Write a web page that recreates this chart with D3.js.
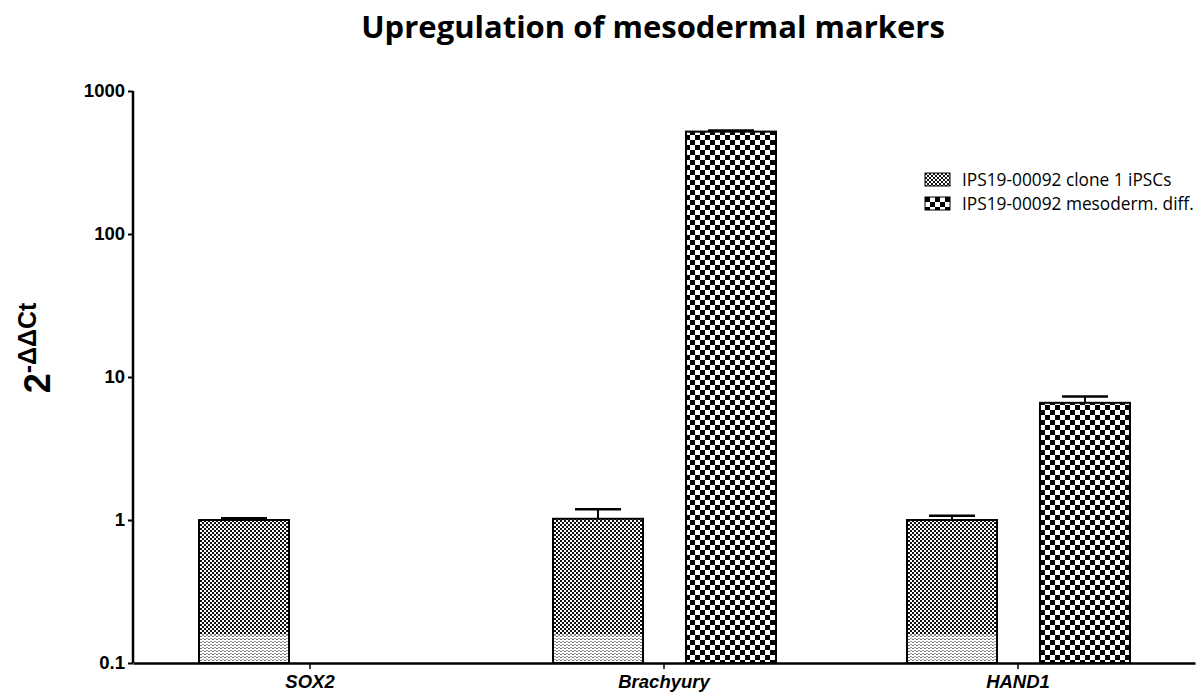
<!DOCTYPE html>
<html>
<head>
<meta charset="utf-8">
<script src="https://cdn.jsdelivr.net/npm/d3@7"></script>
<style>
  body { margin: 0; background: #fff; }
  svg { display: block; }
</style>
</head>
<body>
<script>
// data
var genes = ["SOX2", "Brachyury", "HAND1"];
var seriesNames = ["IPS19-00092 clone 1 iPSCs", "IPS19-00092 mesoderm. diff."];
var cloneValues = [1.0, 1.02, 1.0];
var cloneErrors = [1.03, 1.19, 1.07];
var mesoValues = [null, 520, 6.6];
var mesoErrors = [null, 530, 7.3];
var yTicks = [0.1, 1, 10, 100, 1000];

var width = 1200, height = 696;
var margin = {top: 91, right: 5, bottom: 33, left: 133};

var svg = d3.select("body").append("svg")
    .attr("width", width)
    .attr("height", height);

// patterns
var defs = svg.append("defs");

var pClone = defs.append("pattern")
    .attr("id", "pClone")
    .attr("patternUnits", "userSpaceOnUse")
    .attr("width", 4).attr("height", 4);
pClone.append("rect").attr("width", 4).attr("height", 4).attr("fill", "#fff");
pClone.append("rect").attr("width", 2).attr("height", 2).attr("fill", "#111");
pClone.append("rect").attr("x", 2).attr("y", 2).attr("width", 2).attr("height", 2).attr("fill", "#111");

var pMeso = defs.append("pattern")
    .attr("id", "pMeso")
    .attr("patternUnits", "userSpaceOnUse")
    .attr("width", 10).attr("height", 10);
pMeso.append("rect").attr("width", 10).attr("height", 10).attr("fill", "#fff");
pMeso.append("rect").attr("width", 5).attr("height", 5).attr("fill", "#000");
pMeso.append("rect").attr("x", 5).attr("y", 5).attr("width", 5).attr("height", 5).attr("fill", "#000");

var pLight = defs.append("pattern")
    .attr("id", "pLight")
    .attr("patternUnits", "userSpaceOnUse")
    .attr("width", 4).attr("height", 3);
pLight.append("rect").attr("width", 4).attr("height", 3).attr("fill", "#fff");
pLight.append("rect").attr("width", 2).attr("height", 1).attr("fill", "#777");
pLight.append("rect").attr("x", 2).attr("y", 2).attr("width", 2).attr("height", 1).attr("fill", "#999");

var patterns = ["url(#pClone)", "url(#pMeso)"];

// scales
var x0 = d3.scaleBand()
    .domain(genes)
    .range([margin.left, width - margin.right])
    .padding(0);

var x1 = d3.scaleBand()
    .domain(seriesNames)
    .range([66, 289])
    .paddingInner(0.323)
    .paddingOuter(0);

var y = d3.scaleLog()
    .domain([0.1, 1000])
    .range([height - margin.bottom, margin.top]);

// build rows
var rows = [];
genes.forEach(function(g, i) {
    rows.push({gene: g, series: seriesNames[0], value: cloneValues[i], err: cloneErrors[i], k: 0});
    if (mesoValues[i] != null) {
        rows.push({gene: g, series: seriesNames[1], value: mesoValues[i], err: mesoErrors[i], k: 1});
    }
});

var bars = svg.append("g").attr("class", "bars");

// error bars
bars.selectAll("line.err").data(rows).enter().append("line")
    .attr("class", "err")
    .attr("x1", function(d) { return x0(d.gene) + x1(d.series) + x1.bandwidth() / 2; })
    .attr("x2", function(d) { return x0(d.gene) + x1(d.series) + x1.bandwidth() / 2; })
    .attr("y1", function(d) { return y(d.value); })
    .attr("y2", function(d) { return y(d.err); })
    .attr("stroke", "#000").attr("stroke-width", 2);

bars.selectAll("line.cap").data(rows).enter().append("line")
    .attr("class", "cap")
    .attr("x1", function(d) { return x0(d.gene) + x1(d.series) + x1.bandwidth() / 2 - 23; })
    .attr("x2", function(d) { return x0(d.gene) + x1(d.series) + x1.bandwidth() / 2 + 23; })
    .attr("y1", function(d) { return y(d.err); })
    .attr("y2", function(d) { return y(d.err); })
    .attr("stroke", "#000").attr("stroke-width", 2.5);

bars.selectAll("rect.bar").data(rows).enter().append("rect")
    .attr("class", "bar")
    .attr("x", function(d) { return x0(d.gene) + x1(d.series); })
    .attr("y", function(d) { return y(d.value); })
    .attr("width", x1.bandwidth())
    .attr("height", function(d) { return y(0.1) - y(d.value); })
    .attr("fill", function(d) { return patterns[d.k]; });

// lighter band at the bottom of each bar
bars.selectAll("rect.low").data(rows).enter().append("rect")
    .attr("class", "low")
    .attr("x", function(d) { return x0(d.gene) + x1(d.series); })
    .attr("y", y(0.158))
    .attr("width", x1.bandwidth())
    .attr("height", y(0.1) - y(0.158))
    .attr("fill", function(d) { return d.k == 0 ? "url(#pLight)" : "url(#pMeso)"; })
    .attr("opacity", function(d) { return d.k == 0 ? 1 : 0.75; });

bars.selectAll("rect.outline").data(rows).enter().append("rect")
    .attr("class", "outline")
    .attr("x", function(d) { return x0(d.gene) + x1(d.series); })
    .attr("y", function(d) { return y(d.value); })
    .attr("width", x1.bandwidth())
    .attr("height", function(d) { return y(0.1) - y(d.value); })
    .attr("fill", "none")
    .attr("stroke", "#000").attr("stroke-width", 2);

// axes
var yAxis = d3.axisLeft(y)
    .tickValues(yTicks)
    .tickFormat(function(d) { return d < 1 ? "0.1" : d3.format("d")(d); })
    .tickSize(5)
    .tickPadding(3);

var gy = svg.append("g")
    .attr("transform", "translate(" + margin.left + ",0)")
    .call(yAxis);
gy.select(".domain").attr("stroke-width", 2.5).attr("d", "M0," + y(1000) + "V" + y(0.1));
gy.selectAll(".tick line").attr("stroke-width", 2);
gy.selectAll("text")
    .attr("font-family", "Liberation Sans, Arial, sans-serif")
    .attr("font-weight", "bold")
    .attr("font-size", 18.5)
    .attr("fill", "#000");

var xAxis = d3.axisBottom(x0)
    .tickSize(6)
    .tickPadding(6)
    .tickSizeOuter(0);

var gx = svg.append("g")
    .attr("transform", "translate(0," + y(0.1) + ")")
    .call(xAxis);
gx.select(".domain").attr("stroke-width", 2.5);
gx.selectAll(".tick line").attr("stroke-width", 1.5);
gx.selectAll("text")
    .attr("font-family", "Liberation Sans, Arial, sans-serif")
    .attr("font-weight", "bold")
    .attr("font-style", "italic")
    .attr("font-size", 18.5)
    .attr("fill", "#000");

// title
svg.append("text")
    .attr("x", 653)
    .attr("y", 38)
    .attr("text-anchor", "middle")
    .attr("font-family", "Open Sans, sans-serif")
    .attr("font-weight", "bold")
    .attr("font-size", 31)
    .text("Upregulation of mesodermal markers");

// y label
var ylab = svg.append("text")
    .attr("transform", "translate(50,348) rotate(-90)")
    .attr("text-anchor", "middle")
    .attr("font-family", "Liberation Sans, Arial, sans-serif")
    .attr("font-weight", "bold");
ylab.append("tspan").attr("font-size", 36).text("2");
ylab.append("tspan").attr("font-size", 25).attr("dy", -14).text("-ΔΔCt");

// legend
var legend = svg.append("g").attr("transform", "translate(925,173)");
var li = legend.selectAll("g").data(seriesNames).enter().append("g")
    .attr("transform", function(d, i) { return "translate(0," + (i * 24) + ")"; });
li.append("rect")
    .attr("width", 25).attr("height", 13)
    .attr("fill", function(d, i) { return patterns[i]; })
    .attr("stroke", "#000").attr("stroke-width", 1);
li.append("text")
    .attr("x", 37).attr("y", 13)
    .attr("font-family", "Open Sans, sans-serif")
    .attr("font-size", 17.3)
    .text(function(d) { return d; });
</script>
</body>
</html>
